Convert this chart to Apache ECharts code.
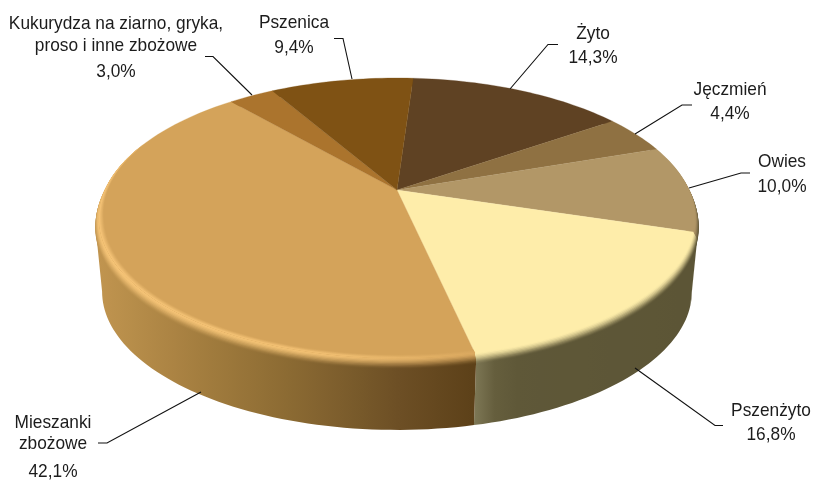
<!DOCTYPE html>
<html><head><meta charset="utf-8">
<style>html,body{margin:0;padding:0;background:#fff;overflow:hidden}#c{width:814px;height:482px}</style>
<script src="https://cdn.jsdelivr.net/npm/echarts@6/dist/echarts.min.js"></script>
</head><body><div id="c"></div>
<script>
// DATA (clockwise from the top of the pie)
const categories = ['Żyto','Jęczmień','Owies','Pszenżyto','Mieszanki\nzbożowe','Kukurydza na ziarno, gryka,\nproso i inne zbożowe','Pszenica'];
const values = [14.3,4.4,10.0,16.8,42.1,3.0,9.4];

// STYLE
const faceColors = ['#5f4223','#8f7142','#b29767','#feedaa','#d4a35a','#ab742d','#7f5214'];
const sideStops = [
  [[0,'#3f2c17'],[1,'#3f2c17']],
  [[0,'#5a4a2c'],[1,'#5a4a2c']],
  [[0,'#5d5336'],[1,'#5d5336']],
  [[0,'#807a58'],[0.12,'#5f5838'],[1,'#5c5536']],
  [[0,'#c0944f'],[0.3,'#a07b3d'],[0.55,'#876731'],[0.8,'#6d4f25'],[1,'#5d4119']],
  [[0,'#8a5c22'],[1,'#8a5c22']],
  [[0,'#5f3d0f'],[1,'#5f3d0f']]
];
const sideRange = [[400,650],[600,700],[640,700],[472,700],[100,472],[200,300],[270,420]];
const highlight = ['#5f4223','#8f7142','#b29767','#feedaa',null,'#ab742d','#7f5214'];
const mixHighlightStops = [[0,'#f8c678'],[0.6,'#f5c375'],[1,'#dcaa60']];

// LAYOUT of the labels and leader lines
const labelLayout = [
  {x:593, ys:[34], py:58, line:[[558,44.5],[548,44.5],[510,89]]},
  {x:730, ys:[90], py:114, line:[[692,105],[682,105],[635,134]]},
  {x:782, ys:[162], py:187, line:[[750,173],[741,173],[689,188]]},
  {x:771, ys:[411], py:435, line:[[723,425.5],[715,425.5],[635,368]]},
  {x:53, ys:[423,444], py:472, line:[[98,443],[107,443],[201,392]]},
  {x:116, ys:[24,46], py:72, line:[[205,56.5],[213,56.5],[252,95]]},
  {x:294, ys:[23], py:48, line:[[334,38.5],[343,38.5],[352,79]]}
];
const cx=397, cy=190, R=292, H=134.4, K=0.2, startDeg=3.8;
const BEVEL_R=0.012, BEVEL_D=9, BOT_R=0.99, BOT_D=74, STRIPS=10, INNER=0.016, GLOW_END=292, GLOW_FADE=35;
const WALL_FROM=101.5, WALL_TO=258.5;

const total = values.reduce((a,b)=>a+b,0);
const startAngles = []; { let a=startDeg; values.forEach(v=>{startAngles.push(a); a+=v/total*360;}); }
function pt(deg,r,dz){
  const t=deg*Math.PI/180, u=r*Math.sin(t), v=-r*Math.cos(t), d=1-K*v;
  return [cx+R*u/d, cy+dz+H*v/d];
}
function arc(a0,a1,r,dz){
  const n=Math.max(2,Math.ceil((a1-a0)/1.5)), p=[];
  for(let i=0;i<=n;i++){const a=a0+(a1-a0)*i/n; p.push(pt(a,typeof r==='function'?r(a):r,dz));}
  return p;
}
function hex(c){return [1,3,5].map(i=>parseInt(c.substr(i,2),16));}
function mix(a,b,t){const A=hex(a),B=hex(b);return '#'+A.map((x,i)=>Math.round(x+(B[i]-x)*t).toString(16).padStart(2,'0')).join('');}
function sample(stops,t){
  for(let i=1;i<stops.length;i++) if(t<=stops[i][0]){
    const s=stops[i-1],e=stops[i];return mix(s[1],e[1],(t-s[0])/(e[0]-s[0]||1));}
  return stops[stops.length-1][1];
}
function hGrad(i,colorAt){
  const xs=[0,.1,.2,.3,.4,.5,.6,.7,.8,.9,1];
  return {type:'linear',global:true,x:sideRange[i][0],y:0,x2:sideRange[i][1],y2:0,
    colorStops:xs.map(o=>({offset:o,color:colorAt(o)}))};
}
const smooth=t=>t*t*(3-2*t);
function sideItem(params){
  const i=params.dataIndex, a0=startAngles[i], a1=a0+values[i]/total*360, kids=[];
  const w0=Math.max(a0,WALL_FROM), w1=Math.min(a1,WALL_TO);
  if(w1>w0){
    // the wall starts a little above the bevel's lower edge so no seam shows between them
    const top=arc(w0,w1,1+BEVEL_R,BEVEL_D-3), bot=arc(w0,w1,BOT_R,BOT_D).reverse();
    kids.push({type:'polygon',shape:{points:top.concat(bot)},silent:true,
      style:{fill:hGrad(i,o=>sample(sideStops[i],o))}});
  }
  for(let s=STRIPS;s>=1;s--){
    const t=s/STRIPS;
    const r=1+BEVEL_R*Math.sin(t*Math.PI/2);
    const upper=arc(a0,a1,1-0.02,0), lower=arc(a0,a1,r,BEVEL_D*t).reverse();
    kids.push({type:'polygon',shape:{points:upper.concat(lower)},silent:true,
      style:{fill:hGrad(i,o=>{
        const hl=highlight[i]||sample(mixHighlightStops,o);
        return mix(hl,sample(sideStops[i],o),smooth(t));
      })}});
  }
  return {type:'group',children:kids};
}
function faceItem(params){
  const i=params.dataIndex, a0=startAngles[i], a1=a0+values[i]/total*360, kids=[];
  kids.push({type:'polygon',shape:{points:[[cx,cy]].concat(arc(a0,a1,1,0))},silent:true,
    style:{fill:faceColors[i],stroke:faceColors[i],lineWidth:0.3}});
  if(!highlight[i]){
    const e=Math.min(a1,GLOW_END);
    for(let s=6;s>=1;s--){
      const w=INNER*s/6, alphaMix=1-(s-0.5)/6;
      const inner=a=>1-w*Math.min(1,Math.max(0,(e-a)/GLOW_FADE));
      const pts=arc(a0,e,1,0).concat(arc(a0,e,inner,0).reverse());
      kids.push({type:'polygon',shape:{points:pts},silent:true,
        style:{fill:hGrad(i,o=>mix(faceColors[i],sample(mixHighlightStops,o),alphaMix))}});
    }
  }
  return {type:'group',children:kids};
}
const FONT='19px "Liberation Sans", Arial, sans-serif', INK='#1c1c1c', NARROW=0.91;
function txt(text,x,y){
  return {type:'text',silent:true,x:x,y:y,scaleX:NARROW,
    style:{text:text,x:0,y:0,font:FONT,fill:INK,align:'center',verticalAlign:'middle'}};
}
function labelItem(params){
  const i=params.dataIndex, L=labelLayout[i], kids=[];
  categories[i].split('\n').forEach((t,k)=>kids.push(txt(t,L.x,L.ys[k])));
  kids.push(txt(values[i].toFixed(1).replace('.',',')+'%',L.x,L.py));
  kids.push({type:'polyline',silent:true,shape:{points:L.line},style:{fill:null,stroke:'#111111',lineWidth:1.1}});
  return {type:'group',children:kids};
}
const chart=echarts.init(document.getElementById('c'),null,{renderer:'canvas'});
chart.setOption({
  animation:false,
  backgroundColor:'#ffffff',
  series:[
    {type:'custom',coordinateSystem:'none',z:1,data:values,renderItem:sideItem},
    {type:'custom',coordinateSystem:'none',z:2,data:values,renderItem:faceItem},
    {type:'custom',coordinateSystem:'none',z:3,data:values,renderItem:labelItem}
  ]
});
</script></body></html>
